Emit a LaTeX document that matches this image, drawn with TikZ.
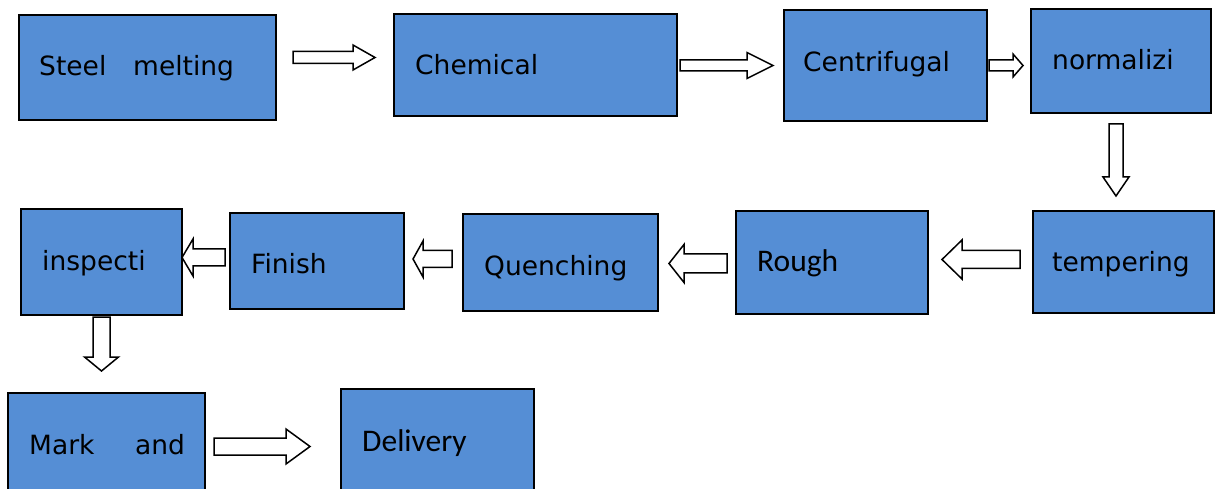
\documentclass[tikz,border=0pt]{standalone}
\usepackage{fontspec}
\newfontfamily\dejavu{DejaVu Sans}
\newfontfamily\carlito{Carlito}
\definecolor{boxblue}{RGB}{85,142,213}
\tikzset{
  box/.style={draw=black, line width=1.8pt, fill=boxblue, inner sep=0pt, anchor=north west, rectangle},
  lbl/.style={anchor=base west, inner sep=0pt, font=\dejavu\fontsize{26.5}{30}\selectfont},
  lblc/.style={anchor=base west, inner sep=0pt, font=\carlito\fontsize{31.5}{36}\selectfont},
  blk/.style={draw=black, line width=1.5pt, fill=white, line join=miter}
}
% horizontal block arrow: #1 shaft end, #2 head base, #3 tip, #4 centre y, #5 shaft half, #6 head half
\newcommand\harrowblk[6]{%
  \draw[blk] (#1,#4-#5) -- (#2,#4-#5) -- (#2,#4-#6) -- (#3,#4) -- (#2,#4+#6) -- (#2,#4+#5) -- (#1,#4+#5) -- cycle;}
% vertical block arrow: #1 shaft top, #2 head base, #3 tip, #4 centre x, #5 shaft half, #6 head half
\newcommand\varrowblk[6]{%
  \draw[blk] (#4-#5,#1) -- (#4-#5,#2) -- (#4-#6,#2) -- (#4,#3) -- (#4+#6,#2) -- (#4+#5,#2) -- (#4+#5,#1) -- cycle;}
\begin{document}
\begin{tikzpicture}[x=1pt,y=-1pt]
\useasboundingbox (0,0) rectangle (1216,489);
\clip (0,0) rectangle (1216,489);
\fill[white] (0,0) rectangle (1216,489);
% boxes
\node[box, minimum width=257pt, minimum height=105pt] (steel) at (18,14) {};
\node[box, minimum width=283pt, minimum height=102pt] (chem) at (393,13) {};
\node[box, minimum width=203pt, minimum height=111pt] (cent) at (783,9) {};
\node[box, minimum width=180pt, minimum height=104pt] (norm) at (1030,8) {};
\node[box, minimum width=181pt, minimum height=102pt] (temp) at (1032,210) {};
\node[box, minimum width=192pt, minimum height=103pt] (rough) at (735,210) {};
\node[box, minimum width=195pt, minimum height=97pt] (quench) at (462,213) {};
\node[box, minimum width=174pt, minimum height=96pt] (finish) at (229,212) {};
\node[box, minimum width=161pt, minimum height=106pt] (insp) at (20,208) {};
\node[box, minimum width=197pt, minimum height=130pt] (mark) at (7,392) {};
\node[box, minimum width=193pt, minimum height=130pt] (deliv) at (340,388) {};
% labels
\node[lbl] (t1a) at (39,76) {Steel};
\node[lbl] (t1b) at (133,76) {melting};
\node[lbl] (t2) at (415,75) {Chemical};
\node[lbl] (t3) at (803,72) {Centrifugal};
\node[lbl] (t4) at (1052,70) {normalizi};
\node[lbl] (t5) at (1052,272) {tempering};
\node[lblc] (t6) at (757,272) {Rough};
\node[lbl] (t7) at (484,276) {Quenching};
\node[lbl] (t8) at (251,273) {Finish};
\node[lbl] (t9) at (42,270) {inspecti};
\node[lbl] (t10a) at (29,454) {Mark};
\node[lbl] (t10b) at (135,454) {and};
\node[lblc] (t11) at (362,451) {Delivery};
% block arrows
\harrowblk{293}{353}{375}{57.5}{6}{12.5}
\harrowblk{680}{747}{773}{65.5}{5.5}{13}
\harrowblk{989}{1013}{1023}{65.5}{5.5}{11.5}
\varrowblk{124}{177}{196}{1116}{7}{13}
\harrowblk{1020}{962}{942}{259.5}{9}{19.5}
\harrowblk{727}{684}{669}{263.5}{9.5}{19}
\harrowblk{452}{423}{413}{259}{8.5}{18}
\harrowblk{225}{193}{182}{257.5}{8.5}{18.5}
\varrowblk{317}{357}{371}{101.5}{8.5}{17}
\harrowblk{214}{286}{310}{446.5}{8.5}{17.5}
\end{tikzpicture}
\end{document}
